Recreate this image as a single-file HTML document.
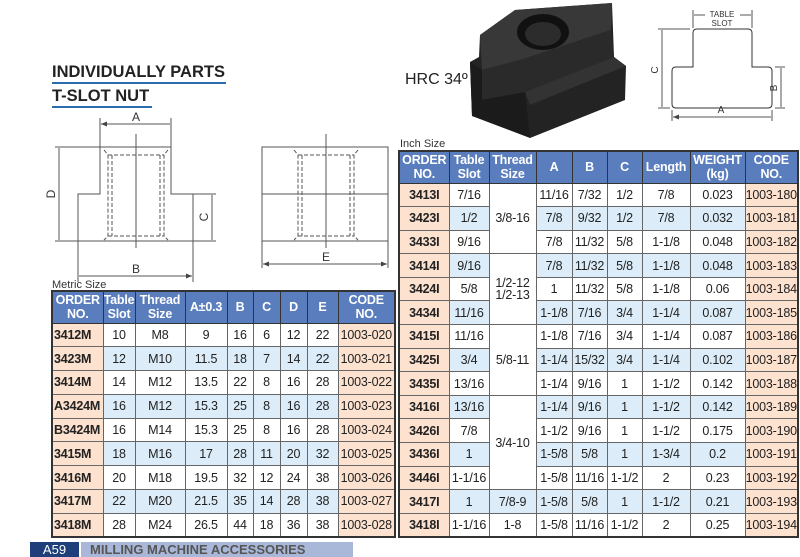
<!DOCTYPE html>
<html><head><meta charset="utf-8"><style>
body{margin:0;width:800px;height:557px;background:#fff;position:relative;overflow:hidden;font-family:"Liberation Sans",Arial,sans-serif;}
.abs{position:absolute;}
table{border-collapse:collapse;table-layout:fixed;position:absolute;border:2px solid #333;}
td,th{border:1px solid #666;padding:0;text-align:center;font-size:12.5px;color:#222;overflow:hidden;white-space:nowrap;letter-spacing:-0.2px;}
th{background:#5a7dbd;color:#fff;font-weight:bold;font-size:12.5px;line-height:14px;border-color:#333;}
td.o{background:#fde2cf;font-weight:bold;}
td.c{background:#fde2cf;}
tr.b td{background:#dcedf9;}
tr.b td.o,tr.b td.c{background:#fde2cf;}
#m td.o{text-align:left;padding-left:1px;}
</style></head><body>

<div class="abs" style="left:52px;top:63px;font-weight:bold;font-size:16.5px;color:#222;">INDIVIDUALLY PARTS</div>
<div class="abs" style="left:52px;top:82px;width:174px;height:2px;background:#2b6cb0;"></div>
<div class="abs" style="left:52px;top:87px;font-weight:bold;font-size:16.5px;color:#222;">T-SLOT NUT</div>
<div class="abs" style="left:52px;top:106px;width:100px;height:2px;background:#2b6cb0;"></div>
<div class="abs" style="left:405px;top:71px;font-size:16px;color:#222;">HRC 34º</div>

<svg class="abs" style="left:0;top:0" width="800" height="300">
<defs><marker id="ar" markerWidth="6" markerHeight="6" refX="6" refY="3" orient="auto-start-reverse"><path d="M0,0.5 L6,3 L0,5.5" fill="#444"/></marker></defs>
<g stroke="#555" stroke-width="1" fill="none">
<path d="M100,147 H171 V194 H193 V241 H78 V194 H100 Z"/>
<path d="M104,150 L108,155 V236 L104,240 M168,150 L164,155 V236 L168,240 M108,155 H164 M108,236 H164 M112,155 V236 M160,155 V236" stroke-dasharray="4,2"/>
<path d="M136,134 V248"/>
<path d="M100,147 V118 M171,147 V118 M55,147 H100 M55,241 H78 M193,194 H216 M193,241 H216 M78,241 V282 M193,241 V282"/>
<path d="M101,124 H170 M59,148 V240 M212,195 V240 M79,276 H192" marker-start="url(#ar)" marker-end="url(#ar)"/>
<path d="M262,147 H388 V241 H262 Z M262,194 H388"/>
<path d="M294,150 L298,155 V236 L294,240 M358,150 L354,155 V236 L358,240 M298,155 H354 M298,236 H354 M302,155 V236 M350,155 V236" stroke-dasharray="4,2"/>
<path d="M326,134 V248 M262,241 V268 M388,241 V268"/>
<path d="M263,264 H387" marker-start="url(#ar)" marker-end="url(#ar)"/>
<path d="M697,29 H748 Q752,29 752,33 V67 H768 Q772,67 772,71 V104 Q772,108 768,108 H676 Q672,108 672,104 V71 Q672,67 676,67 H693 V33 Q693,29 697,29 Z" stroke="#333"/>
<path d="M693,28 V10 M752,28 V10 M672,110 V121 M772,110 V121 M658,29 H690 M658,108 H670 M775,67 H785 M775,108 H785"/>
<path d="M705,15 H694 M740,15 H751 M662,107 V30 M662,30 V107 M781,107 V68 M781,68 V107 M673,117 H771 M771,117 H673" marker-end="url(#ar)"/>
</g>
<g font-size="12" fill="#333" text-anchor="middle">
<text x="136" y="121">A</text><text x="136" y="273">B</text><text x="326" y="261">E</text>
<text transform="translate(55,194) rotate(-90)">D</text>
<text transform="translate(208,217) rotate(-90)">C</text>
<text x="721" y="113" font-size="10">A</text>
<text transform="translate(658,70) rotate(-90)" font-size="10">C</text>
<text transform="translate(777,88) rotate(-90)" font-size="10">B</text>
<text x="722" y="17" font-size="8">TABLE</text><text x="722" y="26" font-size="8">SLOT</text>
</g>
<polygon points="470,62 479,57 480,35 515,10 612,3 614,57 626,66 625,100 530,138 519,130 472,116" fill="#232323"/>
<polygon points="480,35 515,10 612,3 611,30 520,60 482,70" fill="#383838"/>
<polygon points="482,70 520,60 611,30 614,57 525,92 482,100" fill="#2a2a2a"/>
<polygon points="470,62 482,70 482,100 525,92 530,138 472,116" fill="#1b1b1b"/>
<polygon points="525,92 614,57 626,66 530,105" fill="#333"/>
<ellipse cx="543" cy="32" rx="26" ry="18" fill="#111"/>
<ellipse cx="543" cy="34" rx="18" ry="12" fill="#2c2c2c"/>
</svg>

<div class="abs" style="left:52px;top:279px;font-size:11px;color:#333;">Metric Size</div>
<div class="abs" style="left:400px;top:138px;font-size:11px;color:#333;">Inch Size</div>

<table id="m" style="left:51px;top:290px;width:345px;">
<colgroup><col style="width:51px"><col style="width:32px"><col style="width:50px"><col style="width:42px"><col style="width:26px"><col style="width:27px"><col style="width:27px"><col style="width:31px"><col style="width:57px"></colgroup>
<tr style="height:32px"><th>ORDER<br>NO.</th><th>Table<br>Slot</th><th>Thread<br>Size</th><th>A±0.3</th><th>B</th><th>C</th><th>D</th><th>E</th><th>CODE<br>NO.</th></tr>
<tr style="height:23.8px"><td class="o">3412M</td><td>10</td><td>M8</td><td>9</td><td>16</td><td>6</td><td>12</td><td>22</td><td class="c">1003-020</td></tr>
<tr class="b" style="height:23.8px"><td class="o">3423M</td><td>12</td><td>M10</td><td>11.5</td><td>18</td><td>7</td><td>14</td><td>22</td><td class="c">1003-021</td></tr>
<tr style="height:23.8px"><td class="o">3414M</td><td>14</td><td>M12</td><td>13.5</td><td>22</td><td>8</td><td>16</td><td>28</td><td class="c">1003-022</td></tr>
<tr class="b" style="height:23.8px"><td class="o">A3424M</td><td>16</td><td>M12</td><td>15.3</td><td>25</td><td>8</td><td>16</td><td>28</td><td class="c">1003-023</td></tr>
<tr style="height:23.8px"><td class="o">B3424M</td><td>16</td><td>M14</td><td>15.3</td><td>25</td><td>8</td><td>16</td><td>28</td><td class="c">1003-024</td></tr>
<tr class="b" style="height:23.8px"><td class="o">3415M</td><td>18</td><td>M16</td><td>17</td><td>28</td><td>11</td><td>20</td><td>32</td><td class="c">1003-025</td></tr>
<tr style="height:23.8px"><td class="o">3416M</td><td>20</td><td>M18</td><td>19.5</td><td>32</td><td>12</td><td>24</td><td>38</td><td class="c">1003-026</td></tr>
<tr class="b" style="height:23.8px"><td class="o">3417M</td><td>22</td><td>M20</td><td>21.5</td><td>35</td><td>14</td><td>28</td><td>38</td><td class="c">1003-027</td></tr>
<tr style="height:23.8px"><td class="o">3418M</td><td>28</td><td>M24</td><td>26.5</td><td>44</td><td>18</td><td>36</td><td>38</td><td class="c">1003-028</td></tr>
</table>

<table id="i" style="left:398px;top:150px;width:399px;">
<colgroup><col style="width:50px"><col style="width:40px"><col style="width:47px"><col style="width:36px"><col style="width:35px"><col style="width:35px"><col style="width:48px"><col style="width:55px"><col style="width:53px"></colgroup>
<tr style="height:32px"><th>ORDER<br>NO.</th><th>Table<br>Slot</th><th>Thread<br>Size</th><th>A</th><th>B</th><th>C</th><th>Length</th><th>WEIGHT<br>(kg)</th><th>CODE<br>NO.</th></tr>
<tr style="height:23.6px"><td class="o">3413I</td><td>7/16</td><td rowspan="3" style="background:#fff">3/8-16</td><td>11/16</td><td>7/32</td><td>1/2</td><td>7/8</td><td>0.023</td><td class="c">1003-180</td></tr>
<tr class="b" style="height:23.6px"><td class="o">3423I</td><td>1/2</td><td>7/8</td><td>9/32</td><td>1/2</td><td>7/8</td><td>0.032</td><td class="c">1003-181</td></tr>
<tr style="height:23.6px"><td class="o">3433I</td><td>9/16</td><td>7/8</td><td>11/32</td><td>5/8</td><td>1-1/8</td><td>0.048</td><td class="c">1003-182</td></tr>
<tr class="b" style="height:23.6px"><td class="o">3414I</td><td>9/16</td><td rowspan="3" style="background:#fff;line-height:12px">1/2-12<br>1/2-13</td><td>7/8</td><td>11/32</td><td>5/8</td><td>1-1/8</td><td>0.048</td><td class="c">1003-183</td></tr>
<tr style="height:23.6px"><td class="o">3424I</td><td>5/8</td><td>1</td><td>11/32</td><td>5/8</td><td>1-1/8</td><td>0.06</td><td class="c">1003-184</td></tr>
<tr class="b" style="height:23.6px"><td class="o">3434I</td><td>11/16</td><td>1-1/8</td><td>7/16</td><td>3/4</td><td>1-1/4</td><td>0.087</td><td class="c">1003-185</td></tr>
<tr style="height:23.6px"><td class="o">3415I</td><td>11/16</td><td rowspan="3" style="background:#fff">5/8-11</td><td>1-1/8</td><td>7/16</td><td>3/4</td><td>1-1/4</td><td>0.087</td><td class="c">1003-186</td></tr>
<tr class="b" style="height:23.6px"><td class="o">3425I</td><td>3/4</td><td>1-1/4</td><td>15/32</td><td>3/4</td><td>1-1/4</td><td>0.102</td><td class="c">1003-187</td></tr>
<tr style="height:23.6px"><td class="o">3435I</td><td>13/16</td><td>1-1/4</td><td>9/16</td><td>1</td><td>1-1/2</td><td>0.142</td><td class="c">1003-188</td></tr>
<tr class="b" style="height:23.6px"><td class="o">3416I</td><td>13/16</td><td rowspan="4" style="background:#fff">3/4-10</td><td>1-1/4</td><td>9/16</td><td>1</td><td>1-1/2</td><td>0.142</td><td class="c">1003-189</td></tr>
<tr style="height:23.6px"><td class="o">3426I</td><td>7/8</td><td>1-1/2</td><td>9/16</td><td>1</td><td>1-1/2</td><td>0.175</td><td class="c">1003-190</td></tr>
<tr class="b" style="height:23.6px"><td class="o">3436I</td><td>1</td><td>1-5/8</td><td>5/8</td><td>1</td><td>1-3/4</td><td>0.2</td><td class="c">1003-191</td></tr>
<tr style="height:23.6px"><td class="o">3446I</td><td>1-1/16</td><td>1-5/8</td><td>11/16</td><td>1-1/2</td><td>2</td><td>0.23</td><td class="c">1003-192</td></tr>
<tr class="b" style="height:23.6px"><td class="o">3417I</td><td>1</td><td>7/8-9</td><td>1-5/8</td><td>5/8</td><td>1</td><td>1-1/2</td><td>0.21</td><td class="c">1003-193</td></tr>
<tr style="height:23.6px"><td class="o">3418I</td><td>1-1/16</td><td>1-8</td><td>1-5/8</td><td>11/16</td><td>1-1/2</td><td>2</td><td>0.25</td><td class="c">1003-194</td></tr>
</table>

<div class="abs" style="left:30px;top:542px;width:49px;height:15px;background:#1f3f7a;color:#fff;font-size:13px;line-height:15px;text-align:center;">A59</div>
<div class="abs" style="left:81px;top:542px;width:272px;height:15px;background:#a9b8d8;color:#555;font-size:13px;font-weight:bold;line-height:15px;padding-left:9px;box-sizing:border-box;">MILLING MACHINE ACCESSORIES</div>
</body></html>
